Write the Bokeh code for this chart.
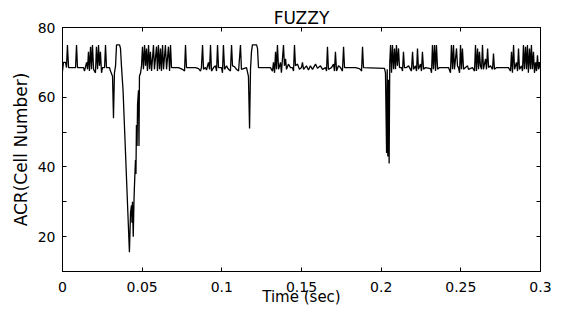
from bokeh.plotting import figure
from bokeh.models import LinearAxis, FixedTicker, Range1d
from bokeh.embed import file_html
from bokeh.resources import INLINE

# Time (sec) and ACR (cell number)
time_sec = [
    0.0000, 0.0006, 0.0019, 0.0025, 0.0031, 0.0038, 0.0063, 0.0082, 0.0088, 0.0094,
    0.0132, 0.0138, 0.0151, 0.0157, 0.0163, 0.0169, 0.0176, 0.0182, 0.0188, 0.0195,
    0.0207, 0.0213, 0.0220, 0.0226, 0.0232, 0.0238, 0.0245, 0.0251, 0.0264, 0.0270,
    0.0276, 0.0295, 0.0301, 0.0314, 0.0320, 0.0326, 0.0333, 0.0339, 0.0358, 0.0364,
    0.0370, 0.0380, 0.0420, 0.0427, 0.0433, 0.0436, 0.0439, 0.0444, 0.0449, 0.0452,
    0.0458, 0.0461, 0.0464, 0.0468, 0.0471, 0.0477, 0.0480, 0.0483, 0.0490, 0.0496,
    0.0502, 0.0508, 0.0515, 0.0521, 0.0527, 0.0533, 0.0540, 0.0546, 0.0552, 0.0559,
    0.0571, 0.0577, 0.0590, 0.0596, 0.0602, 0.0609, 0.0615, 0.0621, 0.0628, 0.0634,
    0.0646, 0.0653, 0.0665, 0.0672, 0.0678, 0.0684, 0.0728, 0.0753, 0.0766, 0.0772,
    0.0778, 0.0835, 0.0854, 0.0866, 0.0872, 0.0879, 0.0885, 0.0897, 0.0904, 0.0916,
    0.0923, 0.0929, 0.0935, 0.0948, 0.0960, 0.0967, 0.0973, 0.0979, 0.0998, 0.1004,
    0.1010, 0.1017, 0.1029, 0.1042, 0.1054, 0.1061, 0.1067, 0.1079, 0.1092, 0.1105,
    0.1117, 0.1123, 0.1155, 0.1167, 0.1174, 0.1180, 0.1186, 0.1192, 0.1218, 0.1224,
    0.1230, 0.1305, 0.1318, 0.1324, 0.1331, 0.1337, 0.1343, 0.1349, 0.1356, 0.1368,
    0.1374, 0.1387, 0.1393, 0.1400, 0.1406, 0.1418, 0.1431, 0.1443, 0.1450, 0.1456,
    0.1462, 0.1475, 0.1487, 0.1500, 0.1506, 0.1513, 0.1531, 0.1544, 0.1556, 0.1569,
    0.1588, 0.1600, 0.1619, 0.1632, 0.1651, 0.1657, 0.1663, 0.1669, 0.1688, 0.1701,
    0.1707, 0.1713, 0.1720, 0.1732, 0.1745, 0.1757, 0.1764, 0.1770, 0.1839, 0.1858,
    0.1870, 0.1877, 0.1883, 0.1889, 0.2021, 0.2027, 0.2034, 0.2038, 0.2042, 0.2046,
    0.2050, 0.2054, 0.2059, 0.2065, 0.2071, 0.2078, 0.2084, 0.2090, 0.2096, 0.2102,
    0.2109, 0.2115, 0.2128, 0.2134, 0.2140, 0.2146, 0.2159, 0.2172, 0.2184, 0.2190,
    0.2197, 0.2203, 0.2215, 0.2222, 0.2228, 0.2234, 0.2247, 0.2253, 0.2259, 0.2266,
    0.2278, 0.2310, 0.2316, 0.2322, 0.2328, 0.2335, 0.2341, 0.2347, 0.2354, 0.2366,
    0.2423, 0.2435, 0.2441, 0.2448, 0.2454, 0.2460, 0.2473, 0.2479, 0.2485, 0.2492,
    0.2498, 0.2504, 0.2510, 0.2517, 0.2529, 0.2542, 0.2548, 0.2573, 0.2586, 0.2592,
    0.2598, 0.2605, 0.2611, 0.2617, 0.2623, 0.2630, 0.2636, 0.2642, 0.2655, 0.2661,
    0.2668, 0.2674, 0.2686, 0.2699, 0.2705, 0.2711, 0.2724, 0.2799, 0.2812, 0.2818,
    0.2824, 0.2831, 0.2837, 0.2849, 0.2856, 0.2862, 0.2868, 0.2881, 0.2887, 0.2893,
    0.2899, 0.2906, 0.2912, 0.2918, 0.2924, 0.2931, 0.2937, 0.2943, 0.2949, 0.2956,
    0.2962, 0.2969, 0.2975, 0.2981, 0.2987, 0.2994, 0.3000,
]
acr = [
    67.5, 70.0, 70.0, 68.5, 75.0, 68.5, 68.5, 68.5, 75.0, 68.5,
    68.5, 67.5, 70.0, 68.0, 73.0, 67.5, 74.5, 68.0, 75.0, 68.0,
    67.0, 74.5, 68.0, 75.0, 69.0, 73.0, 67.0, 68.5, 68.5, 75.0,
    68.5, 68.5, 67.5, 66.0, 54.0, 67.0, 69.0, 75.0, 75.0, 74.0,
    69.0, 62.0, 15.5, 27.0, 29.0, 24.0, 30.0, 20.0, 31.0, 35.0,
    42.0, 38.0, 52.0, 46.0, 58.0, 62.0, 46.0, 66.0, 67.0, 69.0,
    74.5, 68.0, 75.0, 69.0, 74.0, 67.5, 75.0, 68.0, 73.0, 67.5,
    75.0, 68.0, 74.5, 67.5, 75.0, 68.0, 74.0, 67.5, 75.0, 68.0,
    75.0, 68.0, 74.5, 67.5, 75.0, 68.5, 68.5, 68.0, 67.5, 75.0,
    68.5, 68.5, 68.2, 67.5, 68.5, 75.0, 68.0, 68.5, 67.8, 70.0,
    68.0, 75.0, 67.5, 68.5, 69.0, 67.5, 75.0, 68.5, 68.5, 67.0,
    75.0, 68.0, 69.0, 68.0, 67.5, 75.0, 69.0, 68.8, 68.0, 67.5,
    75.0, 68.0, 68.5, 66.0, 51.0, 68.0, 73.0, 75.0, 75.0, 74.0,
    68.5, 68.5, 67.5, 70.0, 67.0, 73.0, 68.0, 75.0, 68.0, 70.0,
    67.0, 75.0, 69.0, 71.0, 68.0, 69.5, 68.5, 68.5, 67.5, 75.0,
    69.0, 69.5, 68.0, 68.5, 70.0, 68.0, 69.0, 67.8, 69.0, 68.0,
    69.5, 68.3, 69.0, 68.0, 68.5, 67.5, 74.5, 68.0, 68.5, 69.5,
    67.5, 73.0, 67.5, 69.0, 68.5, 67.5, 74.5, 68.5, 68.5, 68.3,
    68.0, 67.5, 74.5, 68.5, 68.3, 67.0, 44.0, 68.0, 43.0, 65.0,
    41.0, 70.0, 75.0, 67.0, 75.0, 68.0, 74.0, 68.0, 75.0, 69.0,
    74.0, 68.5, 68.5, 67.5, 73.0, 68.5, 68.5, 69.0, 68.0, 67.5,
    73.0, 68.0, 69.0, 67.5, 74.0, 68.0, 69.5, 67.5, 73.0, 68.0,
    68.5, 68.2, 67.0, 75.0, 68.0, 75.0, 67.5, 75.0, 68.0, 68.5,
    68.5, 67.0, 75.0, 68.0, 75.0, 68.0, 74.0, 69.0, 68.5, 67.0,
    75.0, 68.0, 74.0, 68.0, 68.5, 69.0, 68.0, 68.5, 67.5, 75.0,
    67.5, 74.0, 68.0, 73.0, 69.0, 68.0, 75.0, 68.0, 71.0, 68.0,
    74.0, 68.5, 69.0, 68.0, 72.5, 68.0, 68.5, 68.5, 67.5, 73.0,
    67.0, 75.0, 68.0, 70.0, 67.5, 74.0, 68.0, 69.0, 67.5, 75.0,
    68.0, 74.5, 68.0, 75.0, 67.0, 74.0, 68.0, 75.0, 68.0, 73.0,
    67.0, 70.0, 67.5, 72.0, 68.0, 70.0, 68.0,
]

x_ticks = [0, 0.05, 0.1, 0.15, 0.2, 0.25, 0.3]
x_tick_labels = ["0", "0.05", "0.1", "0.15", "0.2", "0.25", "0.3"]
y_ticks = [20, 40, 60, 80]
y_tick_labels = ["20", "40", "60", "80"]
y_minor_ticks = [10, 30, 50, 70]

FONT = "DejaVu Sans"

p = figure(width=560, height=308, output_backend="svg", toolbar_location=None,
           x_range=Range1d(0, 0.3), y_range=Range1d(10, 80),
           min_border_left=62, min_border_right=20, min_border_top=27,
           min_border_bottom=36, background_fill_color="white",
           border_fill_color="white")
p.xgrid.visible = False
p.ygrid.visible = False
p.outline_line_color = "black"

p.title.text = "FUZZY"
p.title.align = "center"
p.title.text_font = FONT
p.title.text_font_size = "17px"
p.title.text_font_style = "normal"
p.title.text_color = "black"
p.title.standoff = 0
p.title.offset = 0


def style_axis(ax):
    ax.major_tick_in = 4
    ax.major_tick_out = 0
    ax.minor_tick_in = 4
    ax.minor_tick_out = 0
    ax.axis_line_color = "black"
    ax.major_tick_line_color = "black"
    ax.minor_tick_line_color = "black"
    ax.major_label_text_font = FONT
    ax.major_label_text_color = "black"
    ax.major_label_text_font_size = "14px"


xa = p.xaxis[0]
xa.ticker = FixedTicker(ticks=x_ticks)
xa.major_label_overrides = dict(zip(x_ticks, x_tick_labels))
style_axis(xa)
xa.major_label_standoff = 10
xa.axis_label = "Time (sec)"
xa.axis_label_text_font = FONT
xa.axis_label_text_font_size = "15px"
xa.axis_label_text_font_style = "normal"
xa.axis_label_text_color = "black"
xa.axis_label_standoff = -7

ya = p.yaxis[0]
ya.ticker = FixedTicker(ticks=y_ticks, minor_ticks=y_minor_ticks)
ya.major_label_overrides = dict(zip(y_ticks, y_tick_labels))
style_axis(ya)
ya.major_label_standoff = 7
ya.axis_label = "ACR(Cell Number)"
ya.axis_label_text_font = FONT
ya.axis_label_text_font_size = "17px"
ya.axis_label_text_font_style = "normal"
ya.axis_label_text_color = "black"
ya.axis_label_standoff = 4

# mirrored tick marks (no labels) on the top and right edges
top = LinearAxis(ticker=FixedTicker(ticks=[], minor_ticks=x_ticks))
style_axis(top)
p.add_layout(top, "above")
right = LinearAxis(ticker=FixedTicker(ticks=[], minor_ticks=y_ticks + y_minor_ticks))
style_axis(right)
p.add_layout(right, "right")

p.line(time_sec, acr, line_color="black", line_width=1.3)

open("out.html", "w").write(file_html(p, INLINE))
